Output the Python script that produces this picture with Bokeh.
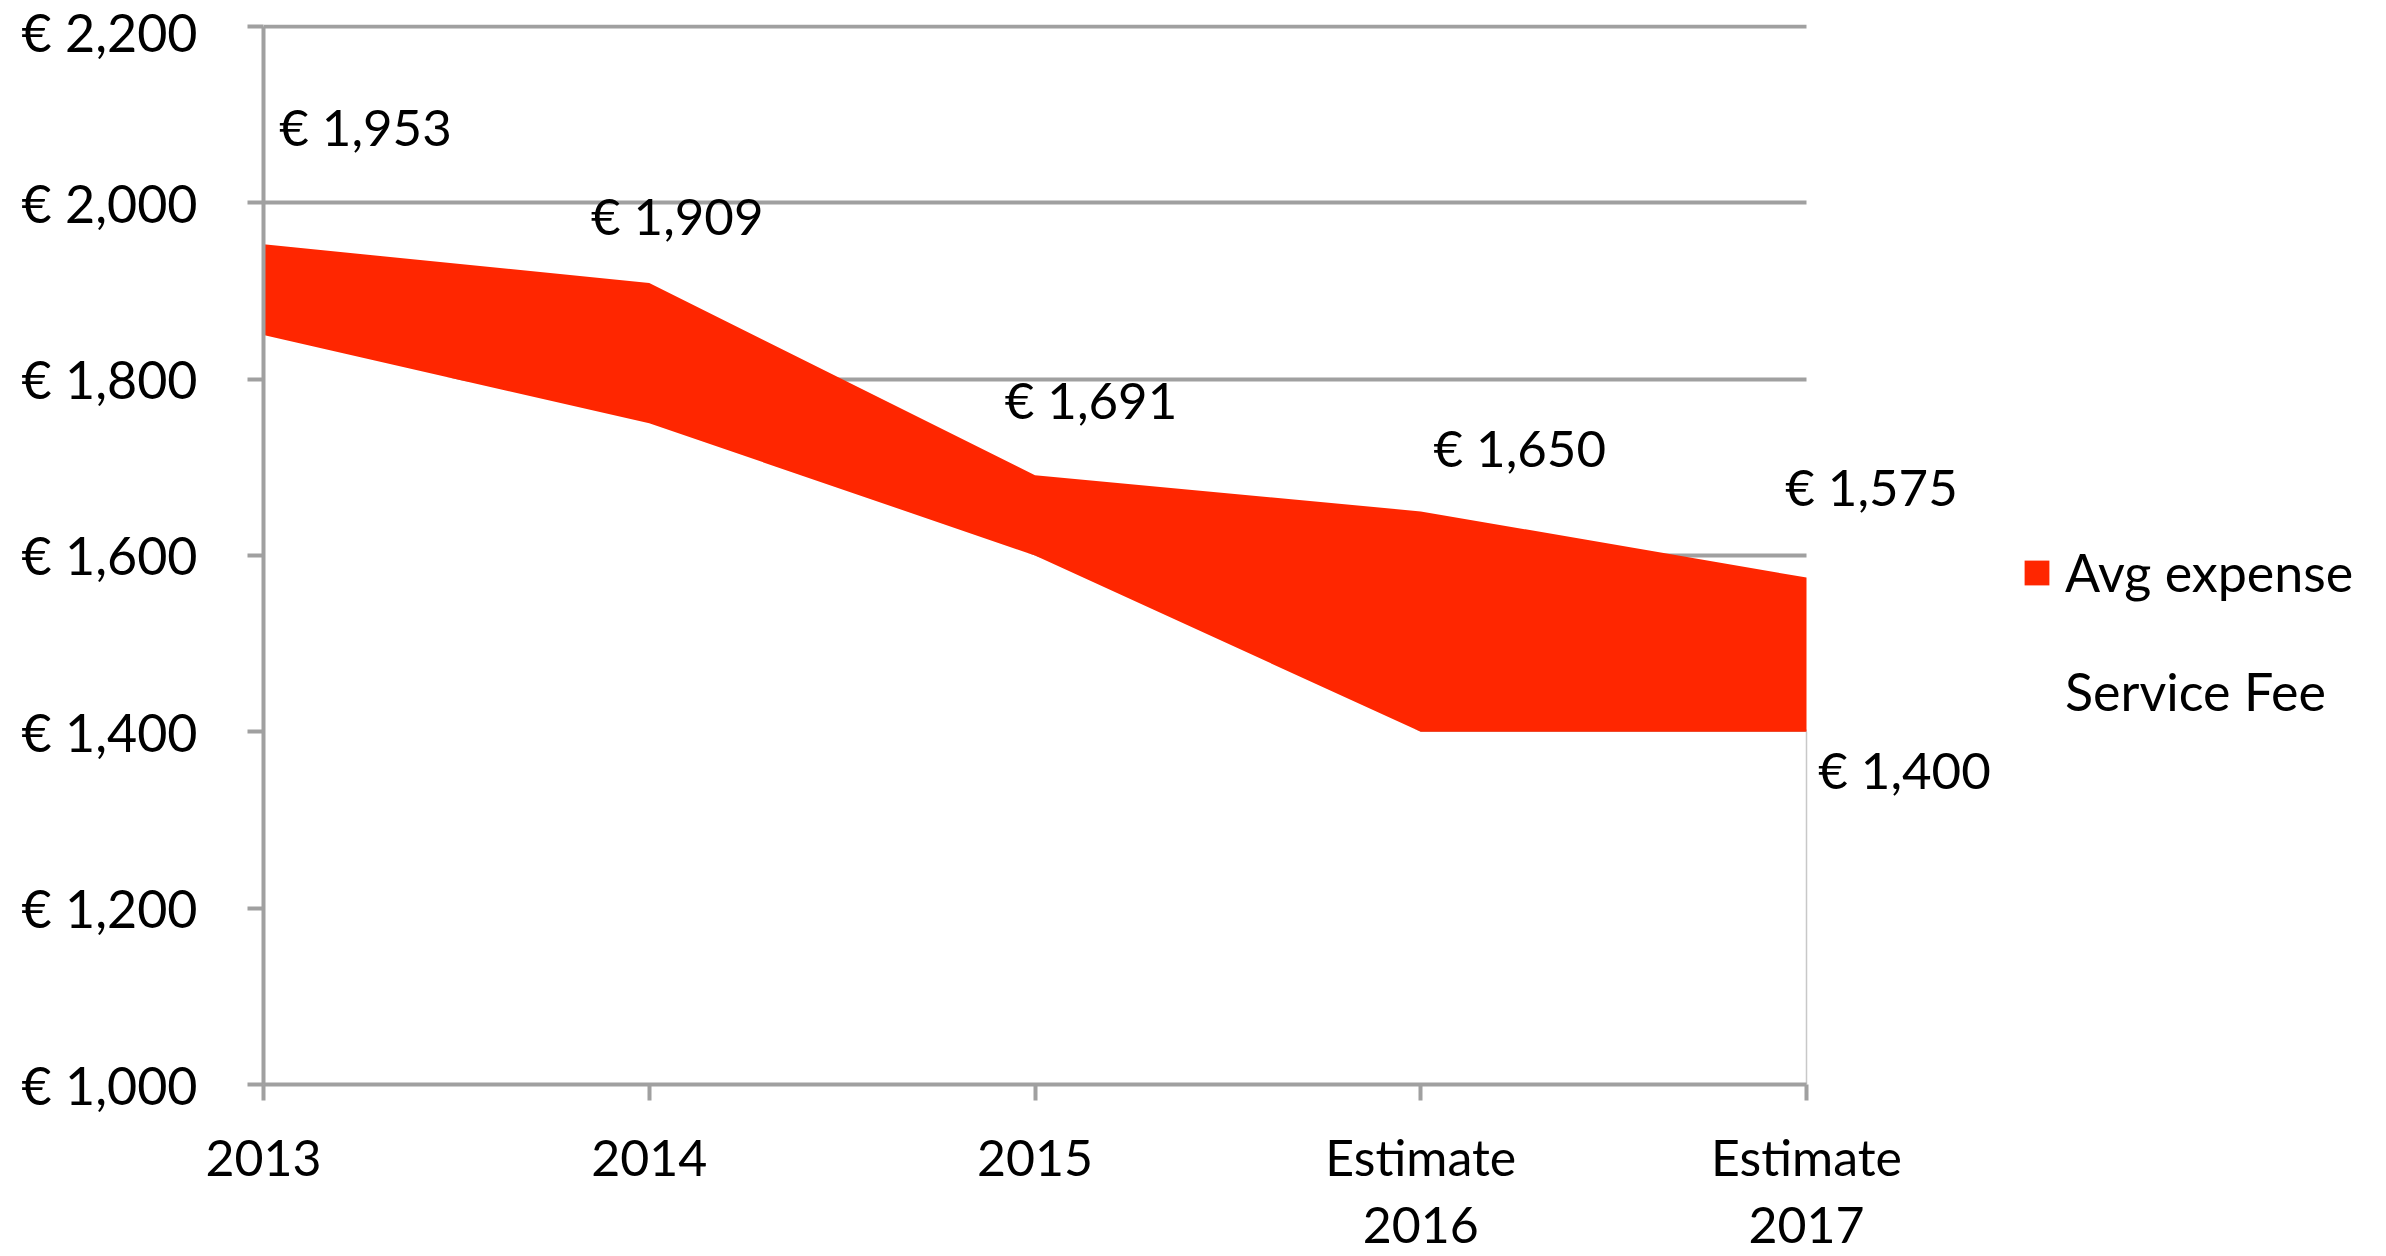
from bokeh.plotting import figure
from bokeh.models import (ColumnDataSource, Range1d, FixedTicker, LabelSet,
                          Legend, LegendItem)
from bokeh.core.properties import value
from bokeh.embed import file_html
from bokeh.resources import INLINE

# ---- data ----
categories = ["2013", "2014", "2015", "Estimate\n2016", "Estimate\n2017"]
service_fee = [1850, 1750, 1600, 1400, 1400]
avg_expense = [1953, 1909, 1691, 1650, 1575]
y_ticks = [1000, 1200, 1400, 1600, 1800, 2000, 2200]
y_tick_labels = ["€ 1,000", "€ 1,200", "€ 1,400", "€ 1,600", "€ 1,800", "€ 2,000", "€ 2,200"]
avg_labels = ["€ 1,953", "€ 1,909", "€ 1,691", "€ 1,650", "€ 1,575"]
fee_label = ["€ 1,400"]

FONT = "Lato"
RED = "#FF2600"
GRAY = "#A0A0A0"

# ---- layout (pixels) ----
W, H = 2380, 1256
LEFT, TOP, FRAME_W, FRAME_H = 263, 24, 1543, 1061
BOTTOM = H - TOP - FRAME_H
xs = list(range(len(categories)))
px_per_x = FRAME_W / (xs[-1] - xs[0])
px_per_y = 1059 / (y_ticks[-1] - y_ticks[0])
x_end = xs[0] + (W - LEFT) / px_per_x
y_end = y_ticks[0] + FRAME_H / px_per_y

base = [y_ticks[0]] * len(xs)
src = ColumnDataSource(dict(x=xs, fee=service_fee, avg=avg_expense, base=base))

p = figure(width=W, height=H, output_backend="svg", toolbar_location=None,
           x_range=Range1d(xs[0], x_end), y_range=Range1d(y_ticks[0], y_end),
           min_border_left=LEFT, min_border_right=0, min_border_top=TOP,
           min_border_bottom=BOTTOM)
p.outline_line_color = None
p.background_fill_color = "white"
p.border_fill_color = "white"

# grid lines limited to the category span
try:
    p.ygrid.cross_bounds = (xs[0], xs[-1])
    p.ygrid.ticker = FixedTicker(ticks=y_ticks)
    p.ygrid.grid_line_color = GRAY
    p.ygrid.grid_line_width = 4
except Exception:
    p.ygrid.grid_line_color = None
    p.segment(x0=[xs[0]] * len(y_ticks), x1=[xs[-1]] * len(y_ticks), y0=y_ticks, y1=y_ticks,
              line_color=GRAY, line_width=4, level="underlay")
p.xgrid.grid_line_color = None

fee_r = p.varea(x="x", y1="base", y2="fee", source=src, fill_color="white")
avg_r = p.varea(x="x", y1="fee", y2="avg", source=src, fill_color=RED)
p.line(x=[xs[-1], xs[-1]], y=[base[-1], service_fee[-1]], line_color="#C8C8C8", line_width=1.5)

# axes
p.xaxis.ticker = FixedTicker(ticks=xs)
p.xaxis.bounds = (xs[0], xs[-1])
p.xaxis.major_label_overrides = {i: c for i, c in enumerate(categories)}
p.yaxis.ticker = FixedTicker(ticks=y_ticks)
p.yaxis.bounds = (y_ticks[0], y_ticks[-1])
p.yaxis.major_label_overrides = {t: l for t, l in zip(y_ticks, y_tick_labels)}
for ax in (p.xaxis, p.yaxis):
    ax.axis_line_color = GRAY
    ax.axis_line_width = 4
    ax.major_tick_line_color = GRAY
    ax.major_tick_line_width = 4
    ax.major_tick_out = 16
    ax.major_tick_in = 0
    ax.minor_tick_line_color = None
    ax.major_label_text_font = FONT
    ax.major_label_text_color = "black"
p.xaxis.major_label_text_font_size = "50px"
p.yaxis.major_label_text_font_size = "52px"
p.yaxis.major_label_standoff = 50
p.xaxis.major_label_standoff = 26
p.xaxis.major_label_text_line_height = 1.12

# data labels
lab_src = ColumnDataSource(dict(x=xs, y=avg_expense, t=avg_labels,
                                dx=[102, 28, 56, 99, 65],
                                dy=[118, 68, 76, 64, 91]))
p.add_layout(LabelSet(x="x", y="y", text="t", source=lab_src, x_offset="dx", y_offset="dy",
                      text_align="center", text_baseline="middle", text_font=value(FONT),
                      text_font_size=value("51px"), text_color="black"))
fee_src = ColumnDataSource(dict(x=[xs[-1]], y=[service_fee[-1]], t=fee_label,
                                dx=[98], dy=[-38]))
p.add_layout(LabelSet(x="x", y="y", text="t", source=fee_src, x_offset="dx", y_offset="dy",
                      text_align="center", text_baseline="middle", text_font=value(FONT),
                      text_font_size=value("51px"), text_color="black"))

legend = Legend(items=[LegendItem(label="Avg expense", renderers=[avg_r]),
                       LegendItem(label="Service Fee", renderers=[fee_r])],
                location=(1758, 362), orientation="vertical",
                glyph_width=31, glyph_height=31, label_height=60, label_standoff=13,
                spacing=57, padding=0, margin=0,
                label_text_font=FONT, label_text_font_size="52px", label_text_color="black",
                border_line_color=None, background_fill_alpha=0)
p.add_layout(legend, "center")

open("out.html", "w").write(file_html(p, INLINE))
